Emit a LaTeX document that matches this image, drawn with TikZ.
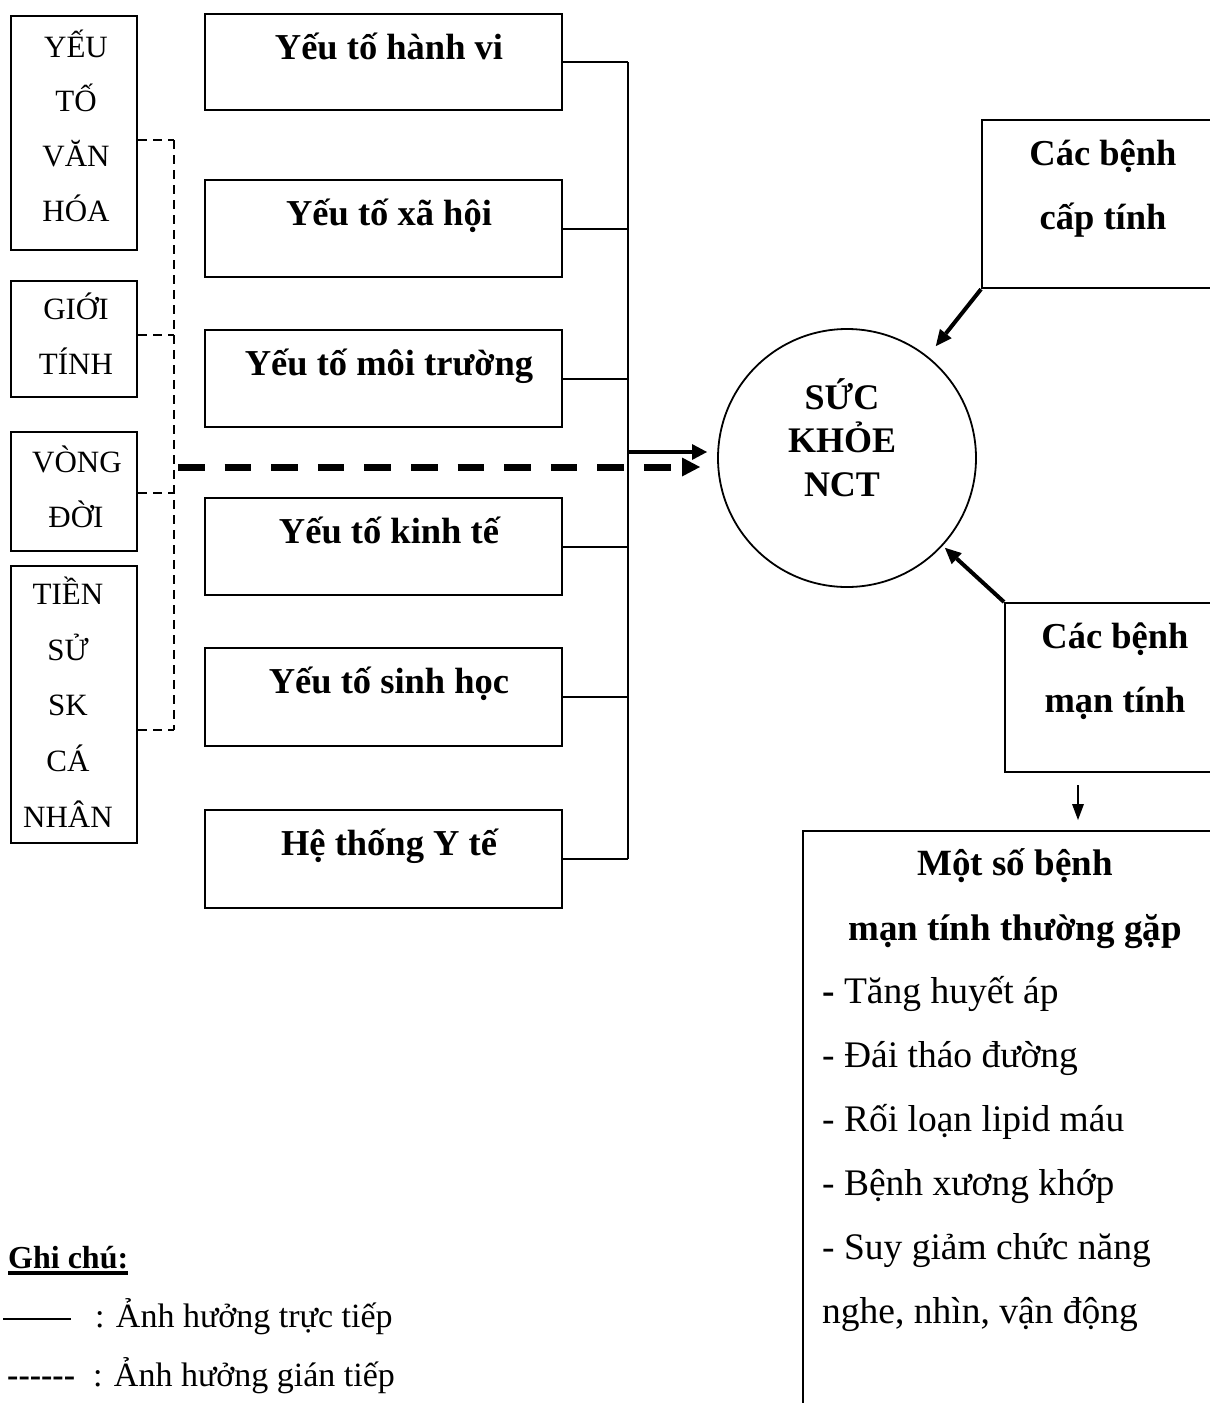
\documentclass[tikz,border=0pt]{standalone}
\usepackage{fontspec}
\setmainfont{Liberation Serif}
\newfontfamily\legfont{Liberation Serif}
\usetikzlibrary{arrows.meta,calc}
\begin{document}
\begin{tikzpicture}[x=1pt,y=-1pt,
  box/.style={draw,line width=2.2pt,inner sep=0pt,anchor=north west},
  ltxt/.style={font=\fontsize{31}{37}\selectfont,anchor=base,inner sep=0pt},
  mtxt/.style={font=\fontsize{36.5}{42}\selectfont\bfseries,anchor=base,inner sep=0pt},
  ctxt/.style={font=\fontsize{36}{42}\selectfont\bfseries,anchor=base,inner sep=0pt},
  htxt/.style={font=\fontsize{37}{42}\selectfont\bfseries,anchor=base,inner sep=0pt},
  itxt/.style={font=\fontsize{37.5}{42}\selectfont,anchor=base west,inner sep=0pt},
  gtxt/.style={font=\fontsize{34}{40}\selectfont,anchor=base west,inner sep=0pt},
  conn/.style={line width=2.2pt},
  thindash/.style={line width=2.2pt,dash pattern=on 9pt off 6pt},
  thickdash/.style={line width=7pt,dash pattern=on 26.6pt off 20pt,-{Triangle[length=18pt,width=19pt,line width=0pt]}},
  solidarr/.style={line width=4pt,-{Triangle[length=15pt,width=16pt,line width=0pt]}},
  diagarr/.style={line width=4pt,-{Triangle[length=16pt,width=15pt,line width=0pt]}},
  downarr/.style={line width=2.5pt,-{Triangle[length=16pt,width=12pt,line width=0pt]}}
]
\useasboundingbox (0,0) rectangle (1210,1403);
\clip (0,0) rectangle (1210,1403);
\fill[white] (0,0) rectangle (1210,1403);

% left boxes
\node[box,minimum width=126pt,minimum height=234pt] (L1) at (10,15) {};
\node[box,minimum width=126pt,minimum height=116pt] (L2) at (10,280) {};
\node[box,minimum width=126pt,minimum height=119pt] (L3) at (10,431) {};
\node[box,minimum width=126pt,minimum height=277pt] (L4) at (10,565) {};

\node[ltxt] (l1a) at (76,57) {YẾU};
\node[ltxt] (l1b) at (76,111) {TỐ};
\node[ltxt] (l1c) at (76,166) {VĂN};
\node[ltxt] (l1d) at (76,221) {HÓA};
\node[ltxt] (l2a) at (76,319) {GIỚI};
\node[ltxt] (l2b) at (76,374) {TÍNH};
\node[ltxt] (l3a) at (77,472) {VÒNG};
\node[ltxt] (l3b) at (76,527) {ĐỜI};
\node[ltxt] (l4a) at (68,604) {TIỀN};
\node[ltxt] (l4b) at (68,660) {SỬ};
\node[ltxt] (l4c) at (68,715) {SK};
\node[ltxt] (l4d) at (68,771) {CÁ};
\node[ltxt] (l4e) at (68,827) {NHÂN};

% middle boxes
\node[box,minimum width=357pt,minimum height=96pt] (M1) at (204,13) {};
\node[box,minimum width=357pt,minimum height=97pt] (M2) at (204,179) {};
\node[box,minimum width=357pt,minimum height=97pt] (M3) at (204,329) {};
\node[box,minimum width=357pt,minimum height=97pt] (M4) at (204,497) {};
\node[box,minimum width=357pt,minimum height=98pt] (M5) at (204,647) {};
\node[box,minimum width=357pt,minimum height=98pt] (M6) at (204,809) {};

\node[mtxt] (m1t) at (389,59.5) {Yếu tố hành vi};
\node[mtxt] (m2t) at (389,225.5) {Yếu tố xã hội};
\node[mtxt] (m3t) at (389,375.5) {Yếu tố môi trường};
\node[mtxt] (m4t) at (389,543.5) {Yếu tố kinh tế};
\node[mtxt] (m5t) at (389,693.5) {Yếu tố sinh học};
\node[mtxt] (m6t) at (389,855.5) {Hệ thống Y tế};

% circle
\node[draw,circle,line width=1.8pt,minimum size=258pt,inner sep=0pt] (circ) at (847,458) {};
\node[ctxt] (c1) at (842,409) {SỨC};
\node[ctxt] (c2) at (842,452) {KHỎE};
\node[ctxt] (c3) at (842,496) {NCT};

% right boxes
\node[box,minimum width=300pt,minimum height=168pt] (acute) at (981,119) {};
\node[mtxt] (a1) at (1103,165) {Các bệnh};
\node[mtxt] (a2) at (1103,229) {cấp tính};
\node[box,minimum width=300pt,minimum height=169pt] (chronic) at (1004,602) {};
\node[mtxt] (b1) at (1115,648) {Các bệnh};
\node[mtxt] (b2) at (1115,712) {mạn tính};
\node[box,minimum width=500pt,minimum height=700pt] (list) at (802,830) {};
\node[htxt] (h1) at (1015,875) {Một số bệnh};
\node[htxt] (h2) at (1015,940) {mạn tính thường gặp};
\node[itxt] (i1) at (822,1003) {\textbf{-} Tăng huyết áp};
\node[itxt] (i2) at (822,1067) {- Đái tháo đường};
\node[itxt] (i3) at (822,1131) {- Rối loạn lipid máu};
\node[itxt] (i4) at (822,1195) {- Bệnh xương khớp};
\node[itxt] (i5) at (822,1259) {- Suy giảm chức năng};
\node[itxt] (i6) at (822,1323) {nghe, nhìn, vận động};

% bus connectors (direct influence)
\coordinate (bus) at (628,0);
\foreach \m in {M1,M2,M3,M4,M5,M6}
  \draw[conn] (\m.east) -- (\m.east -| bus);
\draw[line width=2.5pt] (M1.east -| bus) -- (M6.east -| bus);
\coordinate (sa) at (628,452);
\coordinate (stip) at (707,452);
\draw[solidarr] (sa) -- (stip);

% dashed connectors (indirect influence)
\coordinate (dbus) at (174,0);
\draw[thindash] ([yshift=-7pt]L1.east) -- ([yshift=-7pt]L1.east -| dbus);
\draw[thindash] ([yshift=4pt]L2.east) -- ([yshift=4pt]L2.east -| dbus);
\draw[thindash] ([yshift=-1.5pt]L3.east) -- ([yshift=-1.5pt]L3.east -| dbus);
\draw[thindash] ([yshift=-25.5pt]L4.east) -- ([yshift=-25.5pt]L4.east -| dbus);
\draw[thindash] ([yshift=-7pt]L1.east -| dbus) -- ([yshift=-25.5pt]L4.east -| dbus);
\coordinate (dstart) at (178,467);
\coordinate (dtip) at (700,467);
\draw[thickdash] (dstart) -- (dtip);

% disease arrows
\draw[diagarr,shorten >=13pt] (acute.south west) -- (circ);
\draw[diagarr,shorten >=3pt] (chronic.north west) -- (circ);
\draw[downarr] ([xshift=74pt,yshift=-12pt]chronic.south west) -- ([xshift=276pt,yshift=10pt]list.north west);

% legend
\node[font=\fontsize{32}{38}\selectfont\bfseries,anchor=base west,inner sep=0pt] (ghi) at (8,1268) {Ghi chú:};
\draw[line width=4pt] ([yshift=-5pt]ghi.base west) -- ([yshift=-5pt]ghi.base east);
\coordinate (lg1a) at (3,1319);
\coordinate (lg1b) at (71,1319);
\draw[line width=2pt] (lg1a) -- (lg1b);
\node[gtxt] (g1) at (95,1327) {: Ảnh hưởng trực tiếp};
\node[gtxt,font=\legfont\fontsize{34}{40}\selectfont\bfseries] (g2d) at (7,1386) {------};
\node[gtxt] (g2) at (93,1386) {: Ảnh hưởng gián tiếp};
\end{tikzpicture}
\end{document}
